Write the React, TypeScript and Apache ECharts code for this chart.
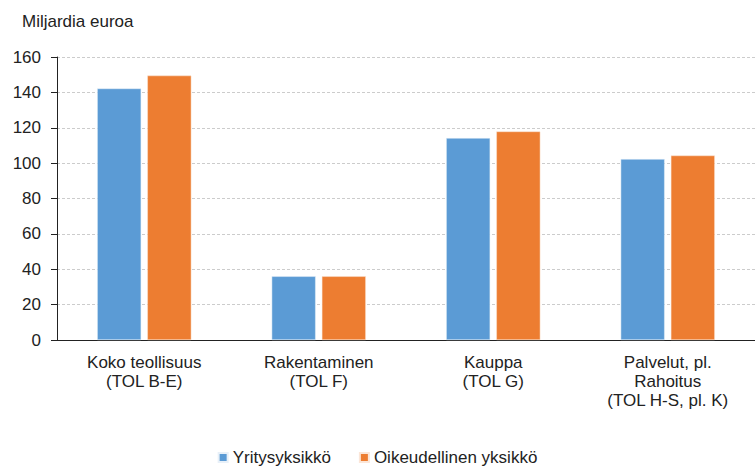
import React, { useEffect, useRef } from "react";
import * as echarts from "echarts";

const categories = [
  "Koko teollisuus\n(TOL B-E)",
  "Rakentaminen\n(TOL F)",
  "Kauppa\n(TOL G)",
  "Palvelut, pl.\nRahoitus\n(TOL H-S, pl. K)",
];
const yritysyksikko = [142.2, 36.0, 114.2, 102.3];
const oikeudellinen = [149.5, 36.0, 117.9, 104.3];
const seriesNames = ["Yritysyksikkö", "Oikeudellinen yksikkö"];
const yAxisTitle = "Miljardia euroa";

export default function App() {
  const ref = useRef<HTMLDivElement>(null);
  useEffect(() => {
    if (!ref.current) return;
    const chart = echarts.init(ref.current, undefined, { renderer: "svg" });
    const font = "Liberation Sans, Arial, sans-serif";
    chart.setOption({
      animation: false,
      backgroundColor: "#ffffff",
      textStyle: { fontFamily: font },
      grid: { left: 57, right: 0, top: 57, bottom: 128, containLabel: false },
      graphic: [
        {
          type: "text",
          left: 22,
          top: 13,
          style: { text: yAxisTitle, font: `17px ${font}`, fill: "#222" },
        },
      ],
      legend: {
        bottom: -3,
        left: "center",
        itemWidth: 9,
        itemHeight: 9,
        itemGap: 28,
        icon: "rect",
        textStyle: { fontSize: 17, color: "#222", fontFamily: font },
        data: seriesNames,
      },
      xAxis: {
        type: "category",
        data: categories,
        axisLine: { show: true, lineStyle: { color: "#222", width: 1 } },
        axisTick: { show: false },
        axisLabel: {
          color: "#222",
          fontSize: 17,
          lineHeight: 19,
          margin: 13,
          interval: 0,
          fontFamily: font,
        },
      },
      yAxis: {
        type: "value",
        min: 0,
        max: 160,
        interval: 20,
        axisLine: { show: true, lineStyle: { color: "#222", width: 1 } },
        axisTick: { show: true, length: 6, lineStyle: { color: "#222" } },
        axisLabel: { color: "#222", fontSize: 17, margin: 16, fontFamily: font },
        splitLine: {
          show: true,
          lineStyle: { color: "#cccccc", type: [3, 2], width: 1 },
        },
      },
      series: [
        {
          name: seriesNames[0],
          type: "bar",
          data: yritysyksikko,
          barWidth: 44,
          barGap: "14%",
          itemStyle: { color: "#5B9BD5", borderColor: "#e8f0f8", borderWidth: 0.5 },
        },
        {
          name: seriesNames[1],
          type: "bar",
          data: oikeudellinen,
          barWidth: 44,
          itemStyle: { color: "#ED7D31", borderColor: "#fbe6d8", borderWidth: 0.5 },
        },
      ],
    });
    return () => chart.dispose();
  }, []);
  return (
    <div
      ref={ref}
      style={{ position: "fixed", left: 0, top: 0, width: 755, height: 468 }}
    />
  );
}
